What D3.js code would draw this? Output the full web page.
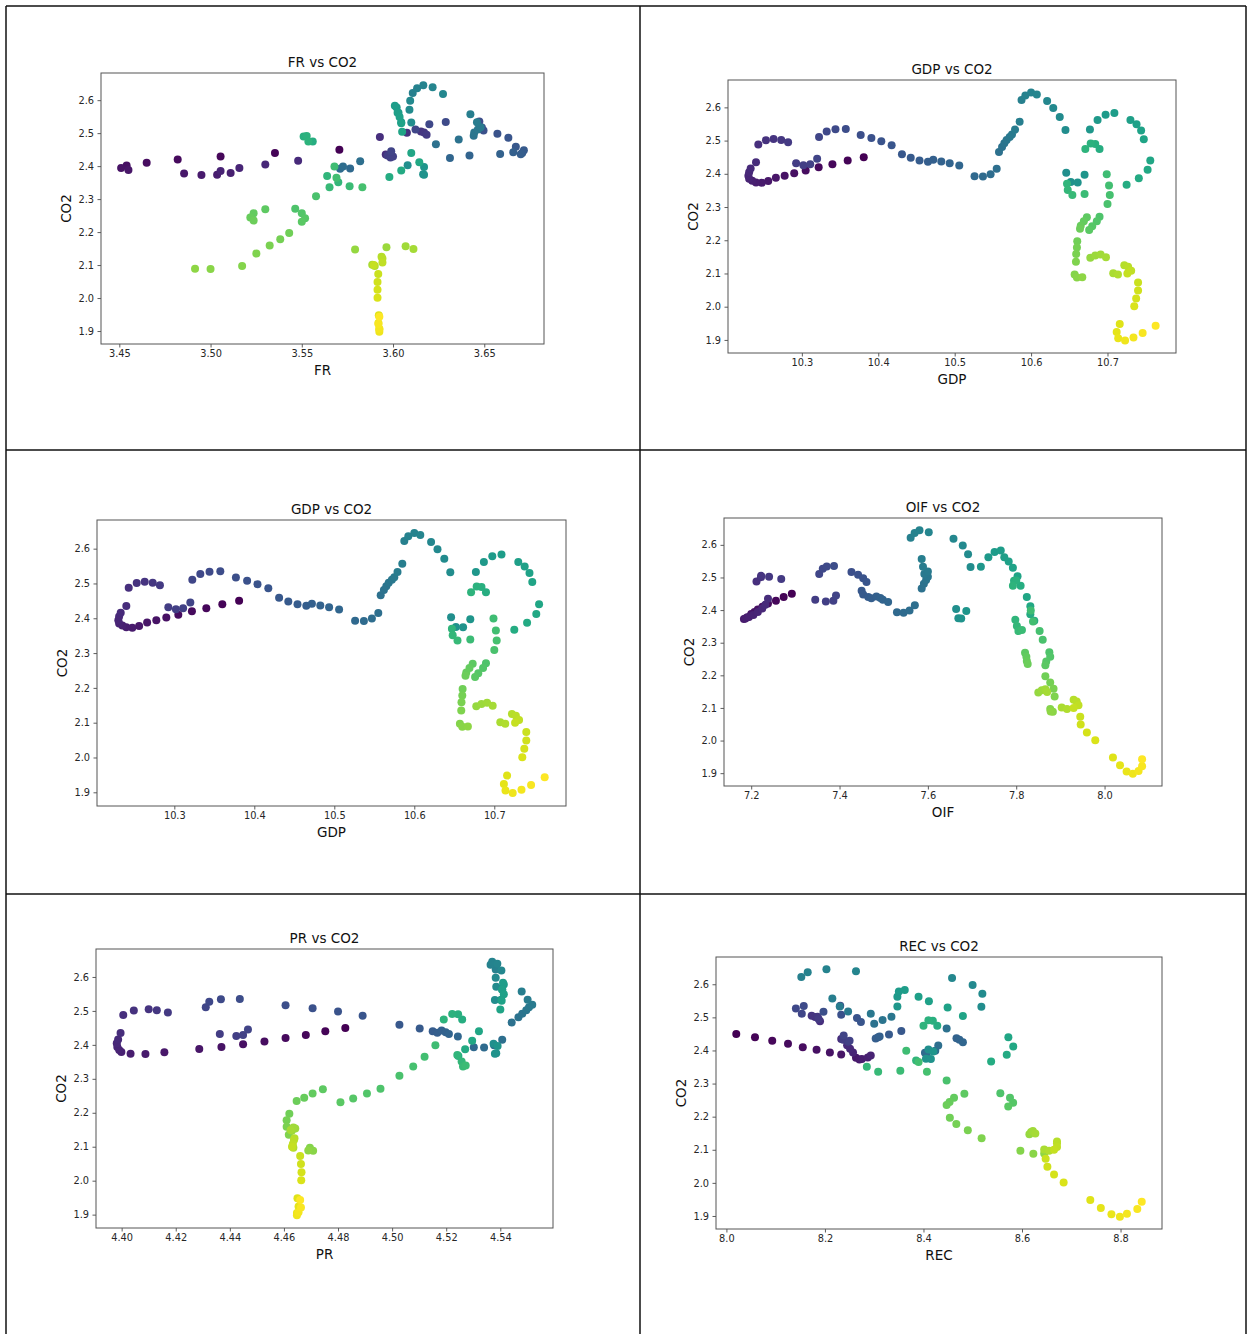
<!DOCTYPE html>
<html>
<head>
<meta charset="utf-8">
<script src="https://cdn.jsdelivr.net/npm/d3@7"></script>
<style>
  body { margin: 0; background: #fff; }
  svg { display: block; font-family: "DejaVu Sans", sans-serif; }
</style>
</head>
<body>
<div id="chart"></div>
<script>
// time-ordered observations (colour = position in time)
const co2 = [2.450,2.440,2.429,2.420,2.410,2.402,2.394,2.388,2.378,2.373,
  2.374,2.379,2.385,2.394,2.405,2.416,2.435,2.488,2.501,2.505,
  2.502,2.495,2.432,2.426,2.429,2.445,2.511,2.527,2.534,2.535,
  2.517,2.508,2.498,2.486,2.459,2.448,2.440,2.436,2.442,2.437,
  2.432,2.425,2.393,2.392,2.399,2.415,2.466,2.481,2.492,2.502,
  2.511,2.518,2.533,2.557,2.622,2.636,2.645,2.639,2.619,2.598,
  2.571,2.532,2.403,2.375,2.374,2.397,2.533,2.562,2.578,2.583,
  2.562,2.549,2.530,2.504,2.440,2.412,2.387,2.367,2.475,2.490,
  2.491,2.475,2.370,2.351,2.336,2.339,2.399,2.365,2.336,2.309,
  2.271,2.257,2.242,2.231,2.269,2.257,2.244,2.235,2.197,2.178,
  2.159,2.135,2.097,2.088,2.089,2.147,2.154,2.157,2.149,2.101,
  2.097,2.125,2.120,2.108,2.100,2.073,2.049,2.025,2.001,1.948,
  1.924,1.905,1.898,1.907,1.921,1.943];

const gdp = [10.381,10.360,10.340,10.322,10.305,10.290,10.2775,10.266,10.256,10.2475,
  10.240,10.235,10.231,10.230,10.231,10.233,10.240,10.243,10.253,10.263,
  10.273,10.282,10.2925,10.302,10.311,10.320,10.3225,10.3325,10.344,10.3575,
  10.377,10.391,10.404,10.4175,10.431,10.4425,10.454,10.465,10.472,10.4825,
  10.4935,10.506,10.526,10.537,10.547,10.555,10.558,10.562,10.565,10.568,
  10.572,10.575,10.579,10.585,10.5875,10.5925,10.600,10.6075,10.621,10.629,
  10.6375,10.645,10.646,10.652,10.661,10.670,10.677,10.687,10.6975,10.709,
  10.730,10.738,10.744,10.7475,10.756,10.7525,10.741,10.725,10.6896,10.684,
  10.678,10.671,10.647,10.648,10.654,10.670,10.699,10.702,10.703,10.700,
  10.6896,10.686,10.680,10.676,10.673,10.669,10.665,10.664,10.6604,10.660,
  10.659,10.6587,10.657,10.660,10.667,10.6775,10.684,10.691,10.698,10.7075,
  10.7137,10.722,10.727,10.731,10.726,10.740,10.740,10.7375,10.735,10.716,
  10.712,10.714,10.723,10.734,10.746,10.763];

const fr = [3.5706,3.5353,3.5055,3.482,3.465,3.454,3.451,3.455,3.4855,3.495,
  3.5036,3.511,3.5055,3.5158,3.530,3.548,3.596,3.5928,3.6076,3.6153,
  3.617,3.6184,3.597,3.5986,3.600,3.599,3.6123,3.6199,3.6289,3.6473,
  3.6487,3.6496,3.6572,3.6632,3.6673,3.6717,3.6708,3.670,3.6659,3.6587,
  3.6419,3.6312,3.5765,3.571,3.5726,3.582,3.6235,3.636,3.6442,3.6445,
  3.6465,3.648,3.646,3.6424,3.6108,3.6132,3.6166,3.6217,3.6274,3.6094,
  3.609,3.610,3.608,3.6165,3.617,3.617,3.6045,3.603,3.602,3.601,
  3.6025,3.6036,3.6045,3.605,3.610,3.6144,3.6045,3.598,3.556,3.551,
  3.5527,3.5536,3.5639,3.570,3.5652,3.5762,3.5679,3.569,3.5832,3.5578,
  3.5464,3.550,3.5518,3.550,3.530,3.5236,3.5218,3.5236,3.5431,3.5382,
  3.5324,3.5251,3.5173,3.500,3.4915,3.5792,3.5964,3.6069,3.6112,3.5886,
  3.590,3.5937,3.5942,3.5942,3.5895,3.5919,3.5915,3.5915,3.5915,3.5922,
  3.592,3.5925,3.5925,3.5925,3.592,3.5925];

const oif = [7.292,7.2735,7.256,7.238,7.2255,7.215,7.2075,7.200,7.191,7.1835,
  7.187,7.195,7.205,7.215,7.225,7.232,7.238,7.212,7.222,7.2225,
  7.2405,7.268,7.345,7.369,7.386,7.392,7.354,7.362,7.371,7.3875,
  7.427,7.442,7.4535,7.461,7.450,7.4535,7.465,7.472,7.4835,7.4925,
  7.498,7.510,7.530,7.545,7.5585,7.5705,7.586,7.591,7.596,7.600,
  7.592,7.600,7.589,7.586,7.561,7.570,7.581,7.602,7.658,7.679,
  7.691,7.6966,7.664,7.669,7.6755,7.687,7.720,7.737,7.751,7.765,
  7.773,7.783,7.7925,7.803,7.824,7.832,7.832,7.841,7.810,7.795,
  7.800,7.7925,7.798,7.8015,7.805,7.813,7.833,7.838,7.853,7.860,
  7.875,7.877,7.868,7.866,7.820,7.823,7.824,7.826,7.866,7.877,
  7.8845,7.887,7.877,7.883,7.878,7.850,7.858,7.866,7.870,7.903,
  7.915,7.930,7.937,7.941,7.930,7.945,7.946,7.960,7.979,8.019,
  8.035,8.050,8.064,8.077,8.085,8.085];

const pr = [4.4827,4.4753,4.4681,4.4606,4.4528,4.4449,4.4369,4.4287,4.4158,4.4088,
  4.4033,4.3999,4.3991,4.3984,4.3982,4.3987,4.3996,4.4006,4.4045,4.410,
  4.413,4.4171,4.4363,4.4424,4.4449,4.4467,4.4311,4.4324,4.4367,4.4437,
  4.4606,4.4706,4.480,4.4891,4.5027,4.5102,4.515,4.5167,4.5183,4.5198,
  4.521,4.5243,4.5302,4.534,4.5377,4.5407,4.5442,4.5467,4.5481,4.5496,
  4.5506,4.5518,4.5501,4.5479,4.5383,4.5364,4.537,4.5389,4.5404,4.5383,
  4.5385,4.538,4.5375,4.5385,4.538,4.539,4.5403,4.5407,4.5413,4.541,
  4.5407,4.5413,4.5405,4.540,4.5321,4.5296,4.527,4.5245,4.5259,4.5244,
  4.5222,4.5191,4.5241,4.5257,4.5262,4.5272,4.516,4.512,4.5078,4.5027,
  4.4957,4.4907,4.4856,4.4809,4.4744,4.4706,4.4675,4.4647,4.462,4.461,
  4.461,4.4618,4.4696,4.4708,4.469,4.4629,4.4642,4.4635,4.4625,4.4632,
  4.4635,4.4639,4.4637,4.4633,4.463,4.466,4.4663,4.4665,4.4664,4.465,
  4.4654,4.4648,4.4648,4.4654,4.4663,4.466];

const rec = [8.020,8.058,8.093,8.125,8.155,8.183,8.210,8.233,8.263,8.270,
  8.275,8.287,8.293,8.257,8.251,8.245,8.233,8.190,8.180,8.173,
  8.185,8.187,8.237,8.247,8.250,8.238,8.153,8.141,8.157,8.231,
  8.197,8.233,8.265,8.273,8.355,8.330,8.308,8.303,8.311,8.467,
  8.473,8.480,8.403,8.407,8.424,8.430,8.447,8.300,8.317,8.335,
  8.293,8.247,8.230,8.215,8.152,8.165,8.203,8.263,8.458,8.4997,
  8.5195,8.5175,8.410,8.405,8.415,8.420,8.347,8.347,8.350,8.362,
  8.390,8.411,8.449,8.480,8.5723,8.5822,8.569,8.5373,8.428,8.419,
  8.410,8.400,8.385,8.285,8.308,8.353,8.365,8.390,8.407,8.447,
  8.556,8.5756,8.582,8.572,8.483,8.462,8.453,8.447,8.4535,8.4667,
  8.490,8.518,8.5967,8.623,8.645,8.615,8.6185,8.622,8.627,8.645,
  8.655,8.671,8.671,8.671,8.665,8.648,8.6515,8.665,8.6845,8.7386,
  8.760,8.7815,8.7987,8.813,8.834,8.843];

const co2Ticks = [1.9, 2.0, 2.1, 2.2, 2.3, 2.4, 2.5, 2.6];
const frTicks = [3.45, 3.50, 3.55, 3.60, 3.65];
const gdpTicks = [10.3, 10.4, 10.5, 10.6, 10.7];
const oifTicks = [7.2, 7.4, 7.6, 7.8, 8.0];
const prTicks = [4.40, 4.42, 4.44, 4.46, 4.48, 4.50, 4.52, 4.54];
const recTicks = [8.0, 8.2, 8.4, 8.6, 8.8];

const W = 1250, H = 1334;
const N = co2.length;

// axes boxes [left, top, right, bottom] for each cell of the table
const panels = [
  { name: "FR",  xs: fr,  ticks: frTicks,  fmt: ".2f", box: [101, 73, 544, 344] },
  { name: "GDP", xs: gdp, ticks: gdpTicks, fmt: ".1f", box: [728, 80, 1176, 353] },
  { name: "GDP", xs: gdp, ticks: gdpTicks, fmt: ".1f", box: [97, 520, 566, 806] },
  { name: "OIF", xs: oif, ticks: oifTicks, fmt: ".1f", box: [724, 518, 1162, 786] },
  { name: "PR",  xs: pr,  ticks: prTicks,  fmt: ".2f", box: [96, 949, 553, 1228] },
  { name: "REC", xs: rec, ticks: recTicks, fmt: ".1f", box: [716, 957, 1162, 1229] }
];

// matplotlib-style 5% margins
function pad(ext) {
  const s = ext[1] - ext[0];
  return [ext[0] - 0.05 * s, ext[1] + 0.05 * s];
}

const color = d3.scaleSequential(d3.interpolateViridis).domain([0, N - 1]);

const svg = d3.select("#chart").append("svg")
  .attr("width", W)
  .attr("height", H);

svg.append("rect").attr("width", W).attr("height", H).attr("fill", "#fff");

// table grid
const grid = svg.append("g")
  .attr("stroke", "#111")
  .attr("stroke-width", 1.5);
[6, 640, 1246].forEach(x => grid.append("line").attr("x1", x).attr("x2", x).attr("y1", 6).attr("y2", H));
[6, 450, 894].forEach(y => grid.append("line").attr("x1", 6).attr("x2", 1246).attr("y1", y).attr("y2", y));

const yDomain = pad(d3.extent(co2));

panels.forEach(p => {
  const [l, t, r, b] = p.box;
  const x = d3.scaleLinear().domain(pad(d3.extent(p.xs))).range([l, r]);
  const y = d3.scaleLinear().domain(yDomain).range([b, t]);
  const g = svg.append("g");

  g.append("g")
    .selectAll("circle")
    .data(d3.range(N))
    .join("circle")
    .attr("cx", i => x(p.xs[i]))
    .attr("cy", i => y(co2[i]))
    .attr("r", 4)
    .attr("fill", i => color(i));

  const xAxis = g.append("g")
    .attr("transform", `translate(0,${b})`)
    .call(d3.axisBottom(x).tickValues(p.ticks).tickFormat(d3.format(p.fmt)).tickSize(3.5).tickPadding(3));
  const yAxis = g.append("g")
    .attr("transform", `translate(${l},0)`)
    .call(d3.axisLeft(y).tickValues(co2Ticks).tickFormat(d3.format(".1f")).tickSize(3.5).tickPadding(3.5));
  [xAxis, yAxis].forEach(a => {
    a.select(".domain").remove();
    a.selectAll("line").attr("stroke", "#333").attr("stroke-width", 0.8);
    a.selectAll("text")
      .attr("fill", "#262626")
      .style("font-size", "9.8px")
      .style("font-family", "DejaVu Sans, sans-serif");
  });

  g.append("rect")
    .attr("x", l).attr("y", t)
    .attr("width", r - l).attr("height", b - t)
    .attr("fill", "none")
    .attr("stroke", "#555")
    .attr("stroke-width", 1);

  g.append("text")
    .attr("x", (l + r) / 2).attr("y", t - 6)
    .attr("text-anchor", "middle")
    .style("font-size", "13.5px")
    .attr("fill", "#111")
    .text(`${p.name} vs CO2`);

  g.append("text")
    .attr("x", (l + r) / 2).attr("y", b + 31)
    .attr("text-anchor", "middle")
    .style("font-size", "13.5px")
    .attr("fill", "#111")
    .text(p.name);

  g.append("text")
    .attr("transform", `translate(${l - 30},${(t + b) / 2}) rotate(-90)`)
    .attr("text-anchor", "middle")
    .style("font-size", "13.5px")
    .attr("fill", "#111")
    .text("CO2");
});
</script>
</body>
</html>
